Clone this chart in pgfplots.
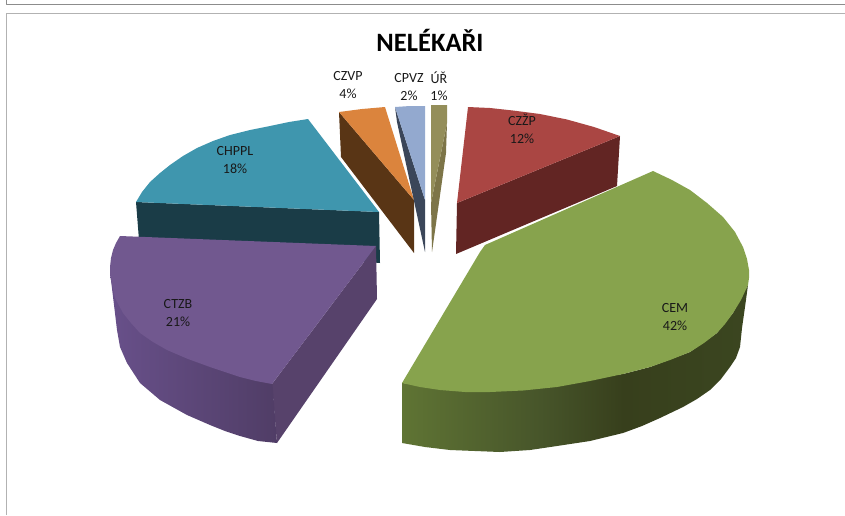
\documentclass[border=0pt]{standalone}
\usepackage{pgfplots}
\pgfplotsset{compat=1.18}
\usepackage{fontspec}
\setmainfont{Carlito}
\definecolor{cemtop}{HTML}{87A34D}
\definecolor{czztop}{HTML}{AA4643}
\definecolor{czzside}{HTML}{622523}
\definecolor{ctztop}{HTML}{71588F}
\definecolor{ctzside}{HTML}{57426B}
\definecolor{chptop}{HTML}{3F96AE}
\definecolor{chpside}{HTML}{1A3C47}
\definecolor{czvtop}{HTML}{DB843D}
\definecolor{czvside}{HTML}{593515}
\definecolor{cpvtop}{HTML}{93A9CF}
\definecolor{cpvside}{HTML}{3B4659}
\definecolor{urtop}{HTML}{948E5A}
\definecolor{urside}{HTML}{7D7548}
\definecolor{cemA}{HTML}{5F7434}
\definecolor{cemB}{HTML}{47552A}
\definecolor{cemC}{HTML}{373F1C}
\definecolor{cemD}{HTML}{3B4620}
\definecolor{ctzA}{HTML}{68508A}
\definecolor{ctzB}{HTML}{503D66}
\pgfdeclarehorizontalshading{cemshade}{100bp}{color(0bp)=(cemA); color(25bp)=(cemA); color(45bp)=(cemB); color(57bp)=(cemC); color(75bp)=(cemD); color(100bp)=(cemD)}
\pgfdeclarehorizontalshading{ctzshade}{100bp}{color(0bp)=(ctzA); color(25bp)=(ctzA); color(75bp)=(ctzB); color(100bp)=(ctzB)}
\tikzset{lab/.style={font=\fontsize{14}{17.5}\selectfont, align=center, text=black!90}}
\begin{document}
\begin{tikzpicture}
\begin{axis}[
  scale only axis, width=845pt, height=515pt,
  xmin=0, xmax=845, ymin=0, ymax=515, y dir=reverse,
  hide axis, clip=true,
  every axis plot/.append style={line join=round}
]
% full canvas (keeps the picture's extent)
\addplot[draw=none, forget plot] coordinates {(0,0) (845,0) (845,515) (0,515)};
% frame lines
\addplot[draw=gray!90, line width=1pt] coordinates {(6.5,0) (6.5,4.5) (845,4.5)};
\addplot[draw=gray!60, line width=1.2pt] coordinates {(6.5,515) (6.5,13.5) (845,13.5)};
% CHPPL 18%
\addplot[draw=none, fill=chpside] coordinates {(136,202) (139,240) (139,245) (380,263) (379,212)} --cycle;
\addplot[draw=none, fill=chptop] coordinates {(308,119) (379,212) (136,202) (142,192) (150,182) (160,173) (170,165) (183,156) (197,148) (213,141) (230,135) (250,130) (270,126) (289,122)} --cycle;
% CTZB 21%
\addplot[draw=none, fill=ctzside] coordinates {(272,384) (277,443) (377,299) (376,246)} --cycle;
\addplot[draw=none, shading=ctzshade] coordinates {(110,272) (114,305) (117,330) (120,347) (127,363) (140,383) (160,400) (187,415) (210,425) (225,431) (240,436) (258,441) (277,443) (272.5,384) (200,300)} --cycle;
\addplot[draw=none, fill=ctztop] coordinates {(120,236) (376,246) (272,384) (256,381) (240,377) (225,372) (210,367) (188,359) (167,350) (153,342) (140,333) (131,323) (123,313) (115,298) (111,280) (110,274) (110,267) (111,258) (113,250) (116,243)} --cycle;
% CZVP 4%
\addplot[draw=none, fill=czvside] coordinates {(339,112) (341,157) (414,253) (414,200)} --cycle;
\addplot[draw=none, fill=czvtop] coordinates {(339,112) (362,109) (385,107) (414,200)} --cycle;
% CPVZ 2%
\addplot[draw=none, fill=cpvside] coordinates {(395,107) (397,122) (425,252) (425,200)} --cycle;
\addplot[draw=none, fill=cpvtop] coordinates {(395,107) (410,106) (425,106) (425,200)} --cycle;
% UR 1%
\addplot[draw=none, fill=urside] coordinates {(447,123) (446,153) (432,252) (431,203)} --cycle;
\addplot[draw=none, fill=urtop] coordinates {(431,105) (447,105) (447,123) (431,203)} --cycle;
% CZZP 12%
\addplot[draw=none, fill=czzside] coordinates {(620,136) (617,186) (456,254) (457,203)} --cycle;
\addplot[draw=none, fill=czztop] coordinates {(468,107) (490,108) (513,110.5) (540,114) (567,119.5) (594,127) (620,136) (457,203)} --cycle;
% CEM 42%
\addplot[draw=none, shading=cemshade] coordinates {(402,383) (402,443) (425,447) (450,450) (475,451) (500,452) (530,450) (557,446) (590,441) (623,433) (642,426) (660,418) (683,407) (697,399) (710,390) (721,379) (730,367) (736,358) (740,347) (742,328) (745,307) (748,285) (733,313) (717,333) (690,352) (650,367) (623,374) (490,392)} --cycle;
\addplot[draw=none, fill=cemtop] coordinates {(653,171) (672,180) (690,190) (707,203) (723,217) (735,232) (743,247) (747,259) (749,270) (749,278) (748,285) (741,300) (733,313) (725,324) (717,333) (704,343) (690,352) (670,360) (650,367) (623,374) (590,381) (557,387) (523,390.5) (490,392) (465,392) (440,390) (420,387) (402,383) (480,252) (485,245)} --cycle;
% texts
\node[font=\fontsize{26.5}{30}\selectfont\bfseries, text=black] at (axis cs:430,40) {NELÉKAŘI};
\node[lab] at (axis cs:348,85) {CZVP\\4\%};
\node[lab] at (axis cs:409,87) {CPVZ\\2\%};
\node[lab] at (axis cs:439,86) {ÚŘ\\1\%};
\node[lab] at (axis cs:522,129) {CZŽP\\12\%};
\node[lab] at (axis cs:235,160) {CHPPL\\18\%};
\node[lab] at (axis cs:178,313) {CTZB\\21\%};
\node[lab] at (axis cs:675,317) {CEM\\42\%};
\end{axis}
\end{tikzpicture}
\end{document}
